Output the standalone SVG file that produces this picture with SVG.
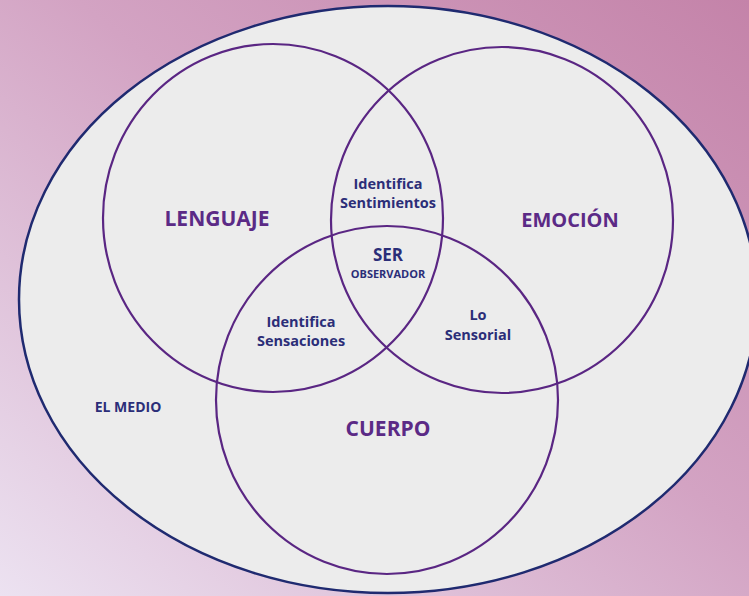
<svg xmlns="http://www.w3.org/2000/svg" width="749" height="596" viewBox="0 0 749 596">
  <defs>
    <linearGradient id="bg" x1="1" y1="0" x2="0" y2="1">
      <stop offset="0" stop-color="#c483a9"/>
      <stop offset="0.45" stop-color="#d3a3c3"/>
      <stop offset="1" stop-color="#ece2f1"/>
    </linearGradient>
    <style>
      .set { fill: none; stroke: #5a2683; stroke-width: 2.2; }
      .big { font-family: "Open Sans", "Liberation Sans", sans-serif; font-weight: 700; fill: #5b2a86; text-anchor: middle; font-size: 21px; }
      .lbl { font-family: "Open Sans", "Liberation Sans", sans-serif; font-weight: 700; fill: #2b2e78; text-anchor: middle; font-size: 14.5px; }
    </style>
  </defs>
  <rect width="749" height="596" fill="url(#bg)"/>
  <g id="medio">
    <ellipse cx="388" cy="299.5" rx="369" ry="293.5" fill="#ececec" stroke="#1f2a70" stroke-width="2.5"/>
    <text class="lbl" x="128" y="412" style="font-size:14px">EL MEDIO</text>
  </g>
  <g id="lenguaje">
    <ellipse class="set" cx="273" cy="218" rx="170" ry="174"/>
    <text class="big" x="217" y="226">LENGUAJE</text>
  </g>
  <g id="emocion">
    <ellipse class="set" cx="502" cy="220" rx="171" ry="173"/>
    <text class="big" x="570" y="227" style="font-size:20px">EMOCIÓN</text>
  </g>
  <g id="cuerpo">
    <ellipse class="set" cx="387" cy="400" rx="171" ry="174"/>
    <text class="big" x="388" y="436">CUERPO</text>
  </g>
  <g id="sentimientos">
    <text class="lbl" x="388" y="189">Identifica</text>
    <text class="lbl" x="388" y="208">Sentimientos</text>
  </g>
  <g id="ser">
    <text class="lbl" x="388" y="261" style="font-size:17px">SER</text>
    <text class="lbl" x="388" y="277.5" style="font-size:11px">OBSERVADOR</text>
  </g>
  <g id="sensaciones">
    <text class="lbl" x="301" y="327">Identifica</text>
    <text class="lbl" x="301" y="346">Sensaciones</text>
  </g>
  <g id="sensorial">
    <text class="lbl" x="478" y="320">Lo</text>
    <text class="lbl" x="478" y="339.5">Sensorial</text>
  </g>
  <g id="connectors"></g>
</svg>
